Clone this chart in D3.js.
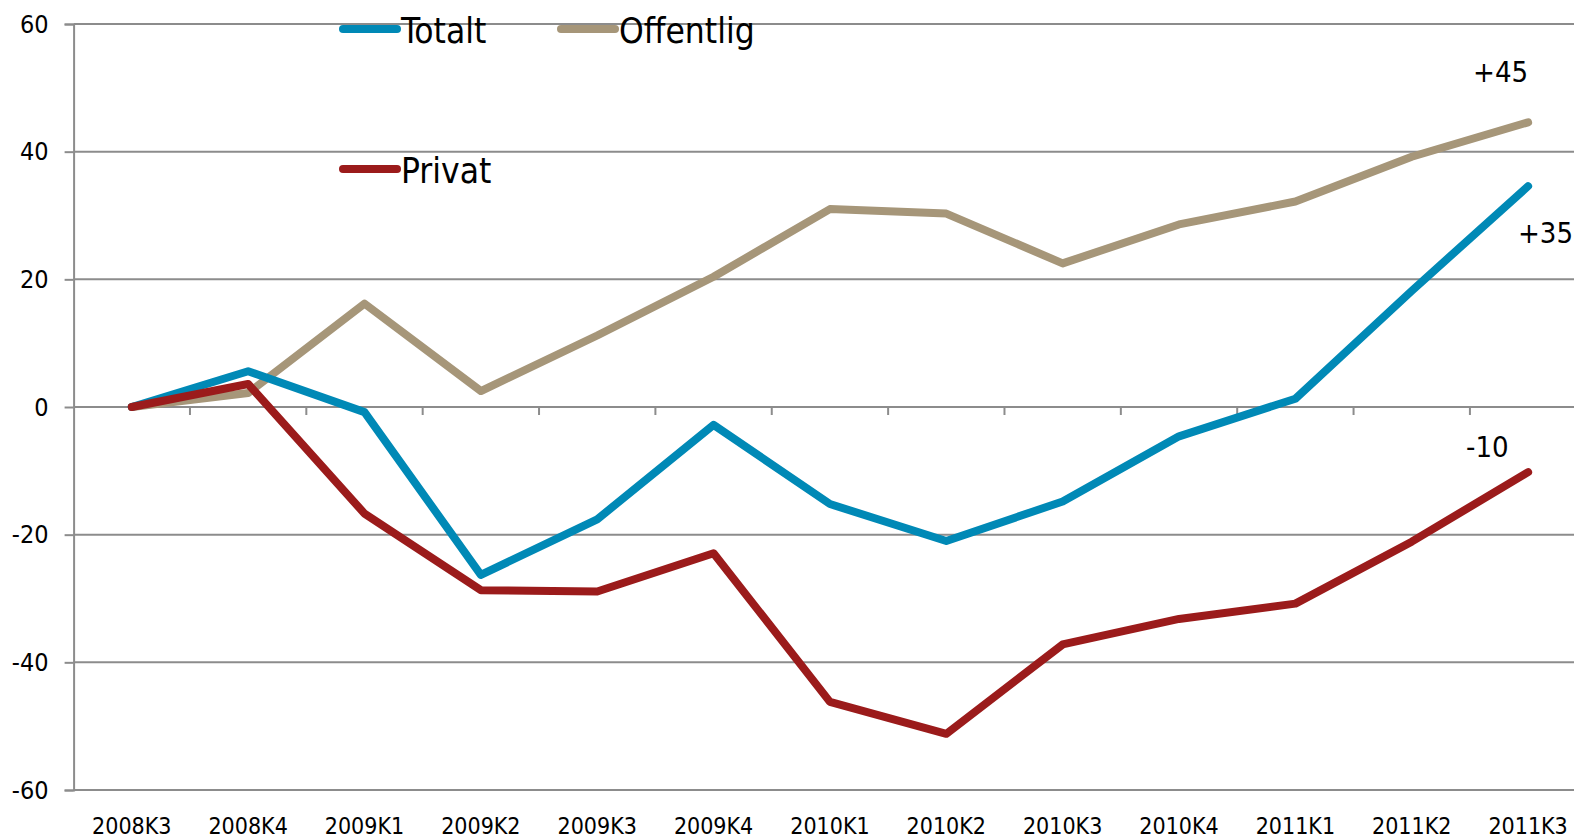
<html>
<head>
    <meta charset="utf-8">
    <script src="https://d3js.org/d3.v7.min.js"></script>
    <style type="text/css">
        body { margin: 0; background: #fff; }
        text { font-family: "DejaVu Sans Condensed", "DejaVu Sans", sans-serif; fill: #000; }
        line.grid { stroke: #8c8c8c; stroke-width: 2; }
        path.serie { fill: none; stroke-width: 8; stroke-linejoin: round; stroke-linecap: round; }
    </style>
</head>
<body>
    <svg></svg>
    <script>
        const W = 1574, H = 839;

        const kvartal = ["2008K3","2008K4","2009K1","2009K2","2009K3","2009K4",
                         "2010K1","2010K2","2010K3","2010K4","2011K1","2011K2","2011K3"];
        const totalt    = [0, 5.6, -0.8, -26.3, -17.6, -2.8, -15.2, -21.0, -14.8, -4.6, 1.3, 18.2, 34.6];
        const offentlig = [0, 2.2, 16.2, 2.5, 11.2, 20.4, 31.0, 30.3, 22.5, 28.6, 32.2, 39.2, 44.6];
        const privat    = [0, 3.6, -16.7, -28.7, -28.9, -22.9, -46.2, -51.2, -37.2, -33.2, -30.8, -21.1, -10.2];
        const yTicks    = [-60, -40, -20, 0, 20, 40, 60];
        const endLabels = ["+35", "+45", "-10"];

        const Left = 73.6, Band = 116.36;

        var svg = d3.select("svg").attr("width", W).attr("height", H);

        var x = d3.scaleBand().domain(kvartal).range([Left, Left + Band * kvartal.length]).padding(0);
        var y = d3.scaleLinear().domain([-60, 60]).range([790, 24]);
        var cx = (c) => x(c) + x.bandwidth() / 2;

        // gridlines
        svg.selectAll("line.grid.h")
            .data(yTicks)
            .enter().append("line").classed("grid", true)
                .attr("x1", Left).attr("x2", W)
                .attr("y1", (d) => y(d)).attr("y2", (d) => y(d));

        // y axis
        var yAxis = svg.append("g")
            .attr("transform", "translate(" + Left + ",0)")
            .call(d3.axisLeft(y).tickValues(yTicks).tickSize(9).tickPadding(16).tickFormat((d) => String(d)));
        yAxis.select(".domain").attr("stroke", "#8c8c8c").attr("stroke-width", 2);
        yAxis.selectAll(".tick line").attr("stroke", "#8c8c8c").attr("stroke-width", 2);
        yAxis.selectAll(".tick text")
            .style("font-family", "'DejaVu Sans Condensed', 'DejaVu Sans', sans-serif")
            .style("font-size", "25px").attr("fill", "#000");

        // category ticks at the zero line
        svg.selectAll("line.ctick")
            .data(kvartal.slice(1))
            .enter().append("line").classed("grid", true)
                .attr("x1", (d) => x(d)).attr("x2", (d) => x(d))
                .attr("y1", y(0)).attr("y2", y(0) + 8);

        // category labels
        svg.selectAll("text.cat")
            .data(kvartal)
            .enter().append("text")
                .attr("x", (d) => cx(d))
                .attr("y", 834)
                .attr("text-anchor", "middle")
                .style("font-size", "23px")
                .text((d) => d);

        var series = [
            { name: "Offentlig", values: offentlig, color: "#a69679" },
            { name: "Totalt",    values: totalt,    color: "#0089b6" },
            { name: "Privat",    values: privat,    color: "#9b1b1b" }
        ];

        var line = d3.line()
            .x((d, i) => cx(kvartal[i]))
            .y((d) => y(d));

        svg.selectAll("path.serie")
            .data(series)
            .enter().append("path").classed("serie", true)
                .attr("stroke", (d) => d.color)
                .attr("d", (d) => line(d.values));

        // end labels
        var last = kvartal[kvartal.length - 1];
        svg.append("text").attr("x", 1518).attr("y", 243).style("font-size", "29px").text(endLabels[0]);
        svg.append("text").attr("x", cx(last)).attr("y", 82).attr("text-anchor", "end").style("font-size", "29px").text(endLabels[1]);
        svg.append("text").attr("x", 1466).attr("y", 457).style("font-size", "29px").text(endLabels[2]);

        // legend
        var legend = [
            { s: series[1], x: 340, y: 29 },
            { s: series[0], x: 558, y: 29 },
            { s: series[2], x: 340, y: 169 }
        ];
        var lg = svg.selectAll("g.leg")
            .data(legend)
            .enter().append("g")
                .attr("transform", (d) => "translate(" + d.x + "," + d.y + ")");
        lg.append("line")
            .attr("x1", 3).attr("x2", 57).attr("y1", 0).attr("y2", 0)
            .attr("stroke", (d) => d.s.color)
            .attr("stroke-width", 8).attr("stroke-linecap", "round");
        lg.append("text")
            .attr("x", 61).attr("y", 14)
            .style("font-size", "35px")
            .text((d) => d.s.name);
    </script>
</body>
</html>
